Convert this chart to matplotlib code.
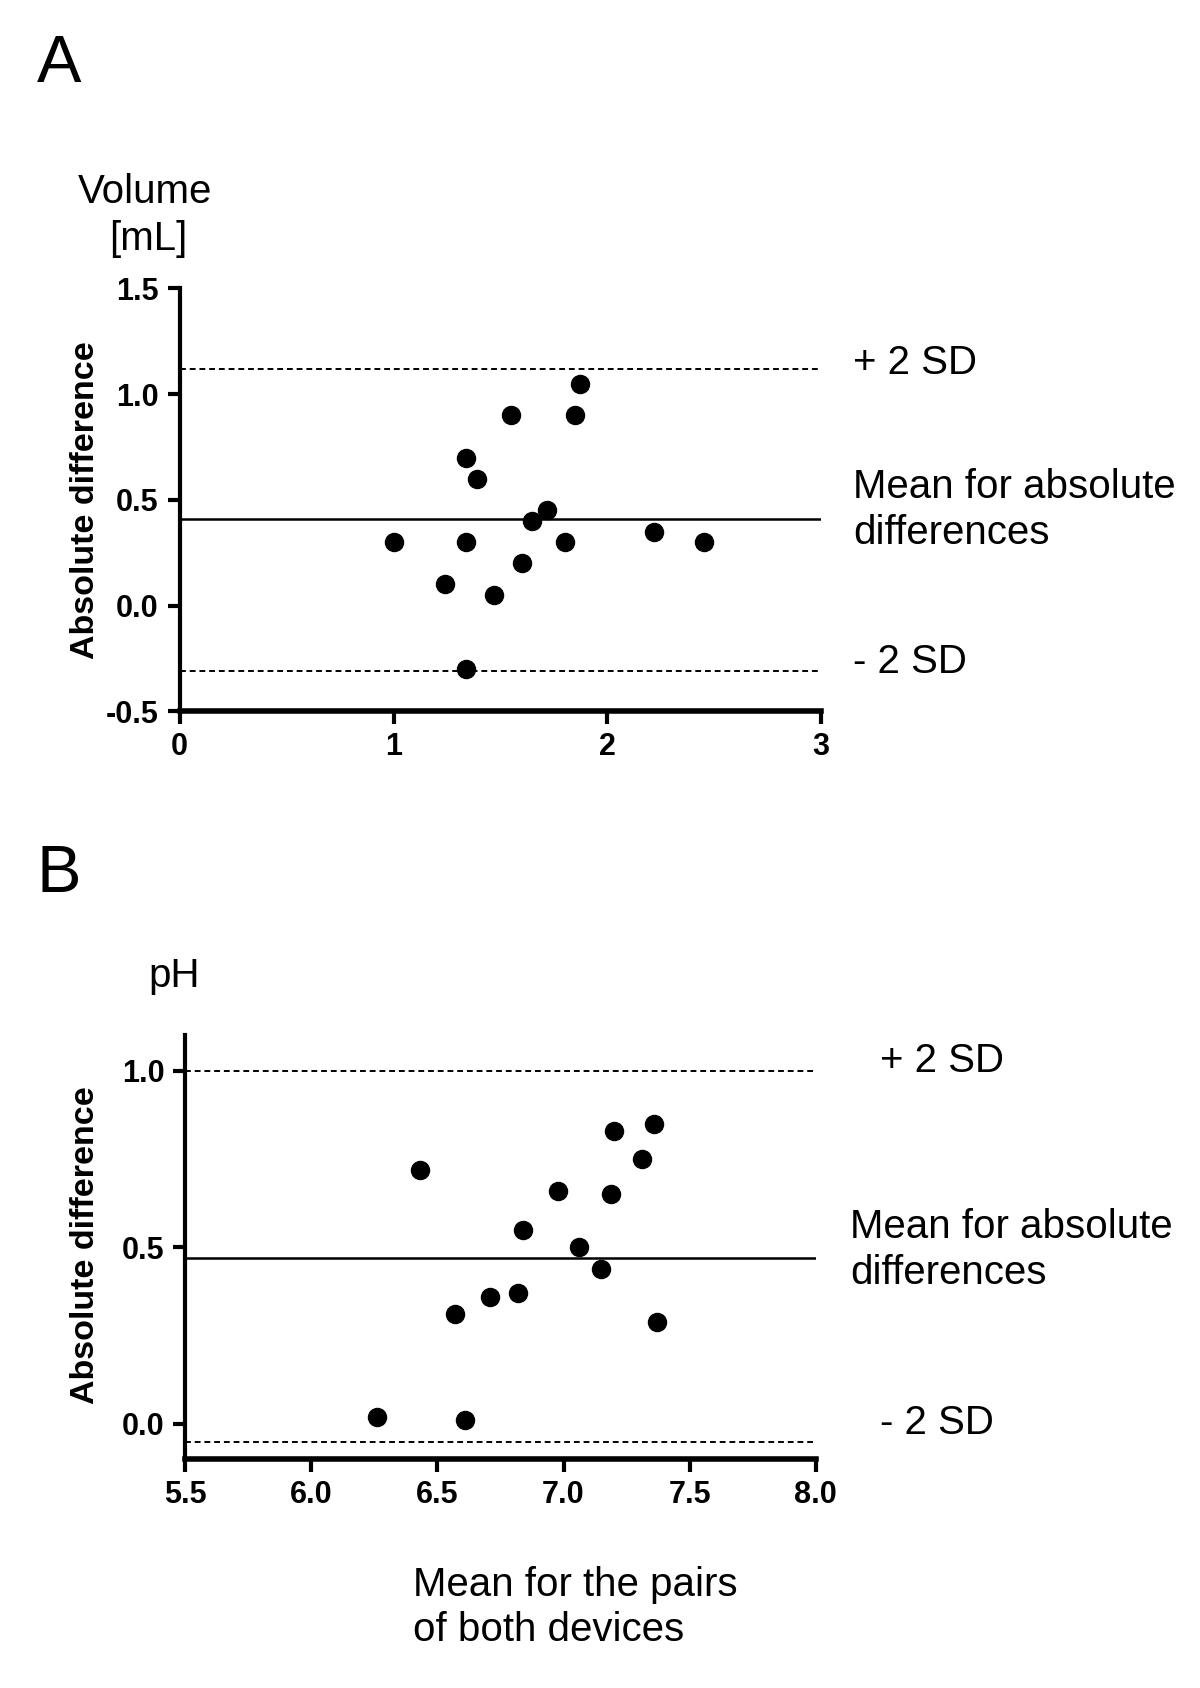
import matplotlib
matplotlib.use("Agg")
import matplotlib.pyplot as plt
from matplotlib import font_manager

names = {f.name for f in font_manager.fontManager.ttflist}
REG = "Liberation Sans" if "Liberation Sans" in names else "DejaVu Sans"

# ---- data: panel A (Volume) ----
vol_mean = [1.00, 1.24, 1.34, 1.34, 1.34, 1.39, 1.47, 1.55, 1.60, 1.65, 1.72, 1.80, 1.85, 1.87, 2.22, 2.45]
vol_diff = [0.30, 0.10, 0.70, 0.30, -0.30, 0.60, 0.05, 0.90, 0.20, 0.40, 0.45, 0.30, 0.90, 1.05, 0.35, 0.30]
vol_lines = [1.12, 0.41, -0.31]   # +2SD, mean, -2SD
vol_xticks = [0, 1, 2, 3]
vol_yticks = [-0.5, 0.0, 0.5, 1.0, 1.5]

# ---- data: panel B (pH) ----
ph_mean = [6.26, 6.43, 6.57, 6.61, 6.71, 6.82, 6.84, 6.98, 7.06, 7.15, 7.19, 7.20, 7.31, 7.36, 7.37]
ph_diff = [0.02, 0.72, 0.31, 0.01, 0.36, 0.37, 0.55, 0.66, 0.50, 0.44, 0.65, 0.83, 0.75, 0.85, 0.29]
ph_lines = [1.00, 0.47, -0.05]
ph_xticks = [5.5, 6.0, 6.5, 7.0, 7.5, 8.0]
ph_yticks = [0.0, 0.5, 1.0]

W, H = 1200, 1688
fig = plt.figure(figsize=(W / 100, H / 100), dpi=100)


def fx(px):
    return px / W


def fy(py):
    return 1 - py / H


def make_axes(rect, xs, ys, lines, xlim, ylim, xticks, yticks, fmtx):
    ax = fig.add_axes(rect)
    ax.set_xlim(*xlim)
    ax.set_ylim(*ylim)
    for s in ["top", "right"]:
        ax.spines[s].set_visible(False)
    ax.spines["left"].set_linewidth(3)
    ax.spines["bottom"].set_linewidth(4)
    ax.set_xticks(xticks)
    ax.set_yticks(yticks)
    ax.set_xticklabels([fmtx(v) for v in xticks])
    ax.set_yticklabels([f"{v:.1f}" for v in yticks])
    ax.tick_params(direction="out", length=9, width=3, pad=6)
    for lab in ax.get_xticklabels() + ax.get_yticklabels():
        lab.set_fontfamily(REG)
        lab.set_fontweight("bold")
        lab.set_fontsize(22)
    ax.axhline(lines[0], color="black", lw=1.4, ls=(0, (3, 2)))
    ax.axhline(lines[1], color="black", lw=1.8)
    ax.axhline(lines[2], color="black", lw=1.4, ls=(0, (3, 2)))
    ax.plot(xs, ys, "o", color="black", markersize=13, clip_on=False)
    return ax


axA = make_axes([fx(179.7), fy(711.4), fx(821.1) - fx(179.7), fy(288.4) - fy(711.4)],
                vol_mean, vol_diff, vol_lines, (0, 3), (-0.5, 1.5),
                vol_xticks, vol_yticks, lambda v: f"{v:d}")
axB = make_axes([fx(185.1), fy(1459.3), fx(815.8) - fx(185.1), fy(1035.3) - fy(1459.3)],
                ph_mean, ph_diff, ph_lines, (5.5, 8.0), (-0.1, 1.1),
                ph_xticks, ph_yticks, lambda v: f"{v:.1f}")

TS = 29
kw = dict(fontfamily=REG, fontsize=TS, va="center", ha="left")

fig.text(fx(59), fy(65), "A", fontfamily=REG, fontsize=48, ha="center", va="center")
fig.text(fx(59), fy(875), "B", fontfamily=REG, fontsize=48, ha="center", va="center")

fig.text(fx(77.5), fy(191.6), "Volume", **kw)
fig.text(fx(108.7), fy(239), "[mL]", **kw)
fig.text(fx(148.5), fy(976), "pH", **kw)

fig.text(fx(853.4), fy(362.7), "+ 2 SD", **kw)
fig.text(fx(853.4), fy(487.5), "Mean for absolute", **kw)
fig.text(fx(853.4), fy(532.7), "differences", **kw)
fig.text(fx(853.4), fy(661.9), "- 2 SD", **kw)

fig.text(fx(880.3), fy(1061), "+ 2 SD", **kw)
fig.text(fx(850.2), fy(1226.9), "Mean for absolute", **kw)
fig.text(fx(850.2), fy(1273.1), "differences", **kw)
fig.text(fx(880.3), fy(1422.7), "- 2 SD", **kw)

fig.text(fx(413.3), fy(1585.2), "Mean for the pairs", **kw)
fig.text(fx(413.3), fy(1630.4), "of both devices", **kw)

ylab = dict(fontfamily=REG, fontsize=24.5, fontweight="bold", rotation=90, ha="center", va="center")
fig.text(fx(86), fy(500), "Absolute difference", **ylab)
fig.text(fx(86), fy(1245), "Absolute difference", **ylab)

fig.savefig("out.png", dpi=100)
